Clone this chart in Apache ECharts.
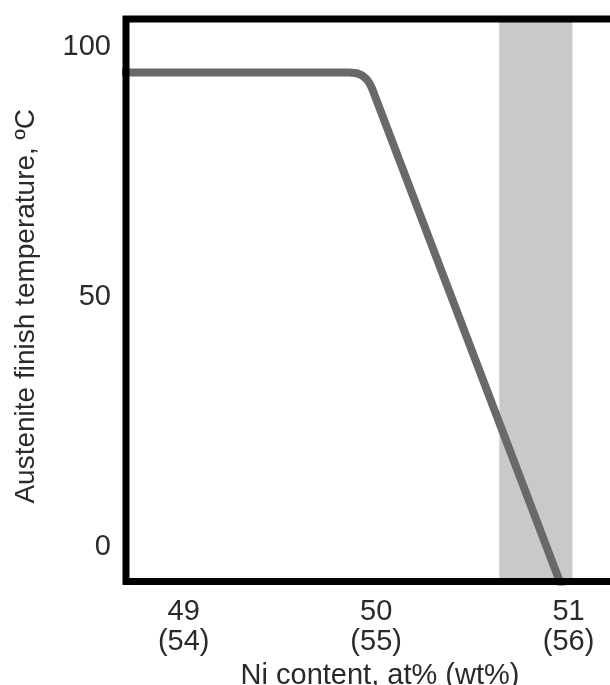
<!DOCTYPE html>
<html>
<head>
<meta charset="utf-8">
<script src="https://cdn.jsdelivr.net/npm/echarts@6/dist/echarts.min.js"></script>
<style>
  html, body { margin: 0; padding: 0; background: #ffffff; }
  #chart { width: 610px; height: 685px; }
</style>
</head>
<body>
<div id="chart"></div>
<script>
// ---- data ----
const curveX = [48.60, 49.860, 49.900, 49.928, 49.950, 49.966, 49.980, 50.971];
const curveY = [94.9, 94.9, 94.75, 94.3, 93.6, 92.7, 91.6, -8.5];
const bandRange = [50.64, 51.02];
const xTickAt = [49, 50, 51];
const xTickWt = ['(54)', '(55)', '(56)'];
const yTicks = [0, 50, 100];
const xTitle = 'Ni content, at% (wt%)';
const yTitle = 'Austenite finish temperature, ºC';

const FONT = 'Liberation Sans, Arial, sans-serif';
const TXT = '#2a2a2a';

const chart = echarts.init(document.getElementById('chart'), null, { renderer: 'canvas' });
chart.setOption({
  backgroundColor: '#ffffff',
  animation: false,
  grid: {
    show: true,
    left: 126,
    top: 19,
    width: 508,
    height: 562.5,
    containLabel: false,
    outerBoundsMode: 'none',
    borderColor: '#000000',
    borderWidth: 7,
    backgroundColor: 'transparent',
    z: 10
  },
  xAxis: {
    type: 'value',
    min: 48.70,
    max: 51.34,
    axisLine: { show: false },
    axisTick: { show: false },
    splitLine: { show: false },
    axisLabel: {
      customValues: xTickAt,
      margin: 15,
      fontFamily: FONT,
      fontSize: 29,
      lineHeight: 30,
      color: TXT,
      formatter: function (v) {
        const i = xTickAt.indexOf(Math.round(v));
        return i >= 0 ? xTickAt[i] + '\n' + xTickWt[i] : '';
      }
    },
    name: xTitle,
    nameLocation: 'middle',
    nameGap: 75,
    nameTextStyle: { fontFamily: FONT, fontSize: 29, color: TXT }
  },
  yAxis: {
    type: 'value',
    min: -6.8,
    max: 105.6,
    axisLine: { show: false },
    axisTick: { show: false },
    splitLine: { show: false },
    axisLabel: {
      customValues: yTicks,
      margin: 15,
      fontFamily: FONT,
      fontSize: 29,
      color: TXT
    },
    name: yTitle,
    nameLocation: 'middle',
    nameGap: 86,
    nameTextStyle: { fontFamily: FONT, fontSize: 28, color: TXT, padding: [0, 12, 0, 0] }
  },
  series: [{
    type: 'line',
    data: curveX.map((x, i) => [x, curveY[i]]),
    showSymbol: false,
    symbol: 'none',
    clip: true,
    lineStyle: { color: '#696969', width: 8, cap: 'round', join: 'round' },
    markArea: {
      silent: true,
      itemStyle: { color: '#c9c9c9' },
      data: [[{ xAxis: bandRange[0] }, { xAxis: bandRange[1] }]]
    },
    z: 2
  }]
});
</script>
</body>
</html>
